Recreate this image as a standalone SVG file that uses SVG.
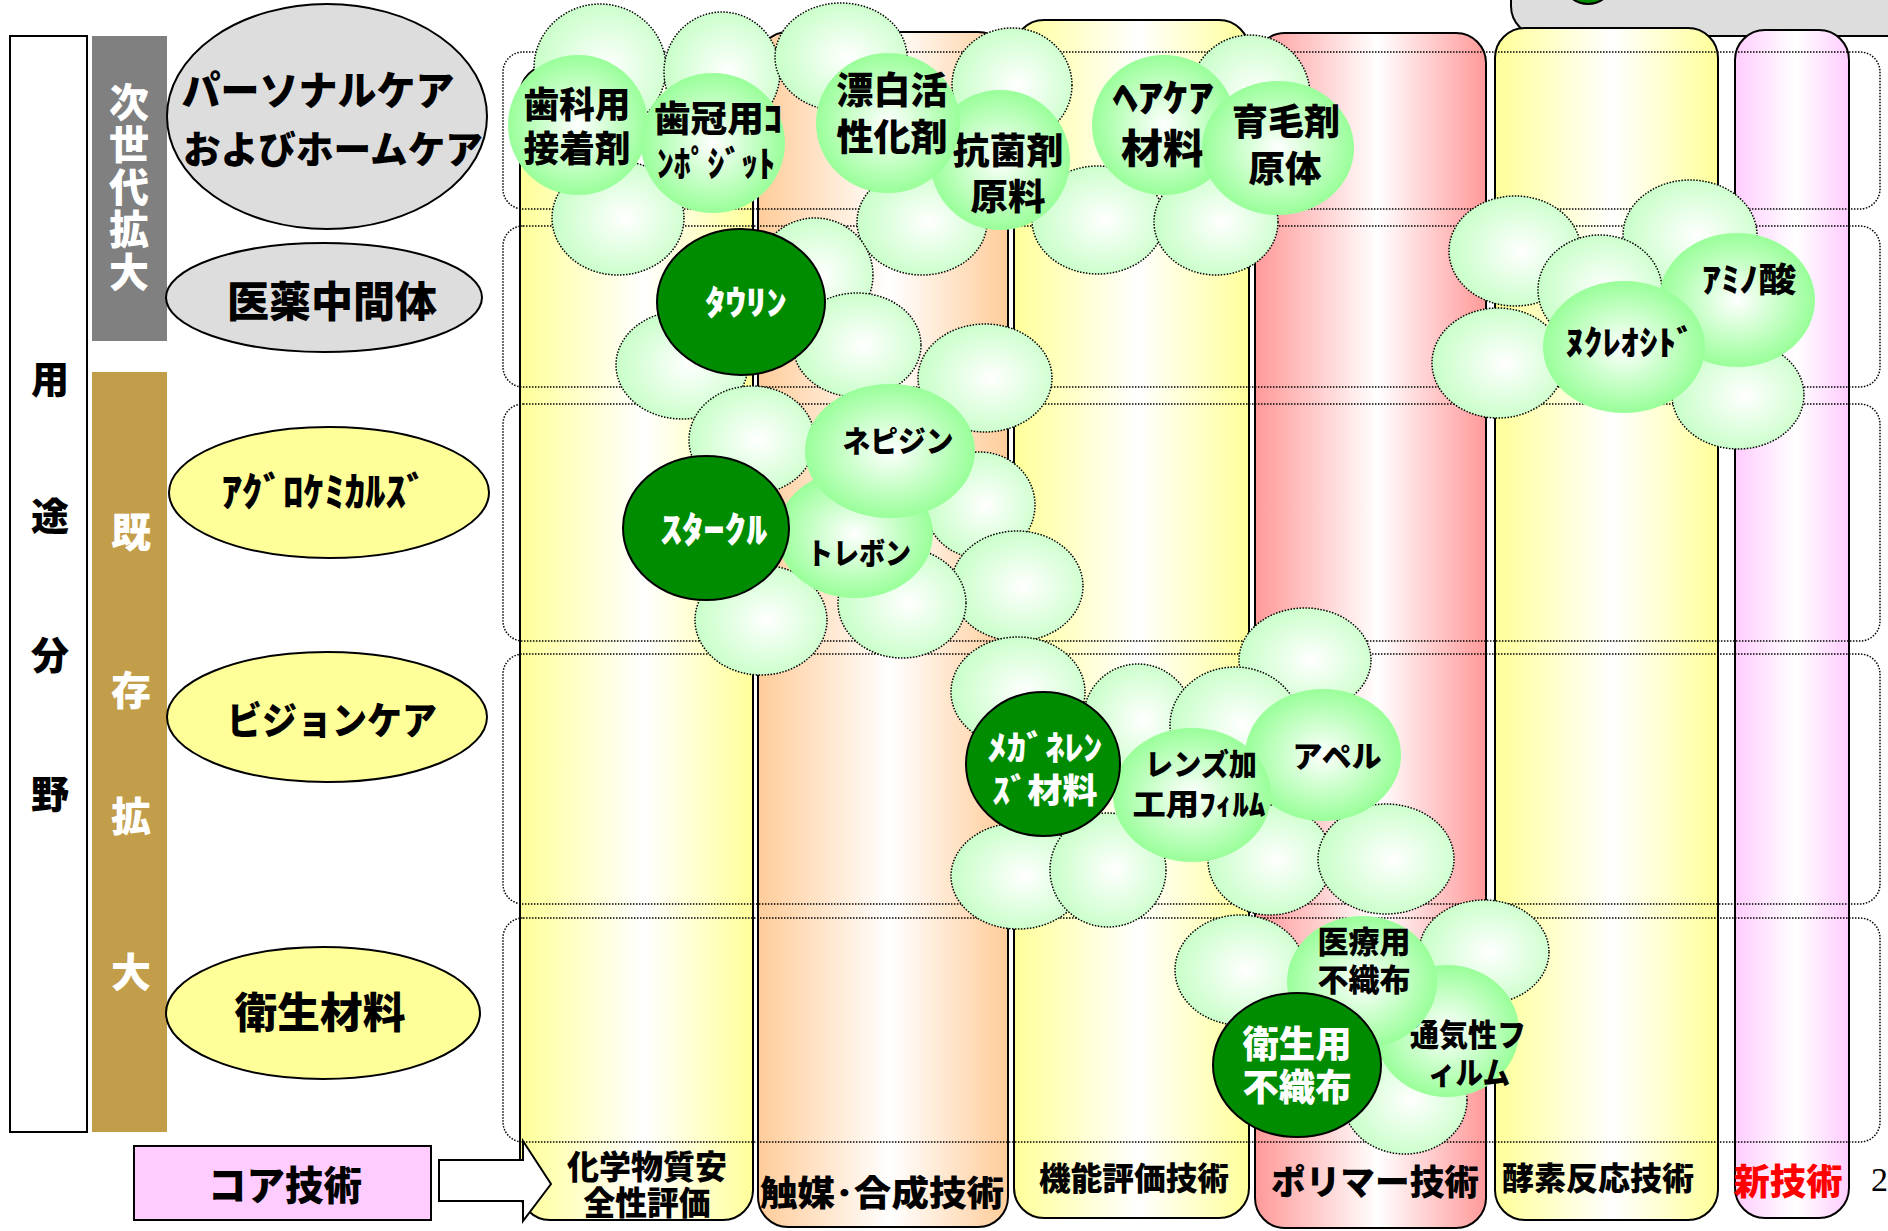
<svg xmlns="http://www.w3.org/2000/svg" width="1888" height="1231" viewBox="0 0 1888 1231">
<defs>
<style>
.t{font-family:"Noto Sans CJK JP","Noto Sans CJK SC",sans-serif;font-weight:900;text-anchor:middle;fill:#000}
.w{fill:#fff}
.red{fill:#FF0000}
.col{stroke:#000;stroke-width:2}
.row{fill:none;stroke:#000;stroke-width:1.5;stroke-dasharray:1.5 1.5}
.db{fill:url(#gD);stroke:#000;stroke-width:1.5;stroke-dasharray:1.5 1.5}
.lb{fill:url(#gL)}
.dk{fill:#008C00;stroke:#000;stroke-width:2}
.ge{fill:#DDDDDD;stroke:#000;stroke-width:2}
.ye{fill:#FFFF99;stroke:#000;stroke-width:2}
</style>
<linearGradient id="gY"><stop offset="0" stop-color="#FFFF99"/><stop offset="0.53" stop-color="#FFFFFF"/><stop offset="1" stop-color="#FFFF99"/></linearGradient>
<linearGradient id="gO"><stop offset="0" stop-color="#FFCC99"/><stop offset="0.53" stop-color="#FFFFFF"/><stop offset="1" stop-color="#FFCC99"/></linearGradient>
<linearGradient id="gR"><stop offset="0" stop-color="#FF9999"/><stop offset="0.53" stop-color="#FFFFFF"/><stop offset="1" stop-color="#FF9999"/></linearGradient>
<linearGradient id="gP"><stop offset="0" stop-color="#FFCCFF"/><stop offset="0.53" stop-color="#FFFFFF"/><stop offset="1" stop-color="#FFCCFF"/></linearGradient>
<radialGradient id="gL" cx="0.5" cy="0.5" r="0.5"><stop offset="0" stop-color="#FFFFFF"/><stop offset="1" stop-color="#99FF99"/></radialGradient>
<radialGradient id="gD" cx="0.55" cy="0.5" r="0.55"><stop offset="0" stop-color="#FFFFFF"/><stop offset="1" stop-color="#C8FFC8"/></radialGradient>
</defs>
<rect width="1888" height="1231" fill="#fff"/>

<!-- top-right partial box -->
<g id="top-box">
<rect x="1511" y="-60" width="420" height="96" rx="30" fill="#DDDDDD" stroke="#000" stroke-width="2"/>
<ellipse cx="1588" cy="-22" rx="26" ry="26" class="dk"/>
</g>

<!-- left axis -->
<g id="axis">
<rect x="10" y="36" width="77" height="1096" fill="#fff" stroke="#000" stroke-width="2"/>
<text class="t" font-size="38" x="50" y="393">用</text>
<text class="t" font-size="38" x="50" y="530">途</text>
<text class="t" font-size="38" x="50" y="669">分</text>
<text class="t" font-size="38" x="50" y="808">野</text>
</g>
<g id="next-gen">
<rect x="92" y="36" width="75" height="305" fill="#808080"/>
<text class="t w" font-size="40" x="129" y="188" writing-mode="vertical-rl" letter-spacing="2.5">次世代拡大</text>
</g>
<g id="existing">
<rect x="92" y="372" width="75" height="760" fill="#C29D4A"/>
<text class="t w" font-size="40" x="131" y="547">既</text>
<text class="t w" font-size="40" x="131" y="705">存</text>
<text class="t w" font-size="40" x="131" y="831">拡</text>
<text class="t w" font-size="40" x="131" y="987">大</text>
</g>

<!-- application ellipses -->
<g id="app-personal">
<ellipse cx="327" cy="116.5" rx="160" ry="112.5" class="ge"/>
<text class="t"><tspan font-size="40" x="318" y="105" textLength="273" lengthAdjust="spacingAndGlyphs">パーソナルケア</tspan><tspan font-size="38" x="333" y="163" textLength="300" lengthAdjust="spacingAndGlyphs">およびホームケア</tspan></text>
</g>
<g id="app-pharma">
<ellipse cx="324" cy="297.5" rx="158" ry="54.5" class="ge"/>
<text class="t" font-size="42" x="332" y="317" textLength="210" lengthAdjust="spacingAndGlyphs">医薬中間体</text>
</g>
<g id="app-agro">
<ellipse cx="329" cy="492.5" rx="160" ry="65.5" class="ye"/>
<text class="t" font-size="40" x="324" y="506" textLength="205" lengthAdjust="spacingAndGlyphs">ｱｸﾞﾛｹﾐｶﾙｽﾞ</text>
</g>
<g id="app-vision">
<ellipse cx="327" cy="717" rx="160" ry="65" class="ye"/>
<text class="t" font-size="38" x="332" y="734" textLength="210" lengthAdjust="spacingAndGlyphs">ビジョンケア</text>
</g>
<g id="app-hygiene">
<ellipse cx="323" cy="1013" rx="157" ry="66" class="ye"/>
<text class="t" font-size="42" x="320" y="1028" textLength="171" lengthAdjust="spacingAndGlyphs">衛生材料</text>
</g>
<g id="core-tech">
<rect x="134" y="1146" width="297" height="74" fill="#FFCCFF" stroke="#000" stroke-width="2"/>
<text class="t" font-size="40" x="285" y="1200" textLength="154" lengthAdjust="spacingAndGlyphs">コア技術</text>
</g>

<!-- technology columns -->
<g id="col-safety"><rect x="520" y="65" width="233" height="1155" rx="30" fill="url(#gY)" class="col"/></g>
<g id="col-catalysis"><rect x="758" y="32" width="250" height="1195" rx="30" fill="url(#gO)" class="col"/></g>
<g id="col-function"><rect x="1014" y="20" width="235" height="1198" rx="30" fill="url(#gY)" class="col"/></g>
<g id="col-polymer"><rect x="1255" y="33" width="231" height="1195" rx="30" fill="url(#gR)" class="col"/></g>
<g id="col-enzyme"><rect x="1495" y="28" width="223" height="1192" rx="30" fill="url(#gY)" class="col"/></g>
<g id="col-new"><rect x="1735" y="30" width="114" height="1188" rx="30" fill="url(#gP)" class="col"/></g>

<!-- row frames -->
<g id="rows">
<rect x="503" y="52" width="1377" height="157" rx="20" class="row"/>
<rect x="503" y="226" width="1377" height="161" rx="20" class="row"/>
<rect x="503" y="404" width="1377" height="237" rx="20" class="row"/>
<rect x="503" y="654" width="1377" height="250" rx="20" class="row"/>
<rect x="503" y="918" width="1377" height="224" rx="20" class="row"/>
</g>

<!-- column labels -->
<g id="col-labels">
<text class="t" font-size="33"><tspan x="647" y="1179" textLength="160" lengthAdjust="spacingAndGlyphs">化学物質安</tspan><tspan x="647" y="1215" textLength="127" lengthAdjust="spacingAndGlyphs">全性評価</tspan></text>
<text class="t" font-size="35" x="882" y="1206" textLength="244" lengthAdjust="spacingAndGlyphs">触媒･合成技術</text>
<text class="t" font-size="32" x="1134" y="1190" textLength="190" lengthAdjust="spacingAndGlyphs">機能評価技術</text>
<text class="t" font-size="35" x="1375" y="1195" textLength="208" lengthAdjust="spacingAndGlyphs">ポリマー技術</text>
<text class="t" font-size="32" x="1598" y="1190" textLength="192" lengthAdjust="spacingAndGlyphs">酵素反応技術</text>
<text class="t red" font-size="36" x="1788" y="1195" textLength="109" lengthAdjust="spacingAndGlyphs">新技術</text>
</g>
<text x="1871" y="1191" font-family="Liberation Serif" font-size="34" fill="#000">2</text>

<!-- connector -->
<g id="connectors">
<polygon points="439,1160 523,1160 523,1141 551,1184 523,1221 523,1201 439,1201" fill="#fff" stroke="#000" stroke-width="2"/>
</g>

<!-- unlabeled bubbles -->
<g id="bubbles-plain">
<ellipse cx="600" cy="68" rx="66" ry="64" class="db"/>
<ellipse cx="722" cy="72" rx="58" ry="60" class="db"/>
<ellipse cx="841" cy="57" rx="66" ry="54" class="db"/>
<ellipse cx="1012" cy="85" rx="60" ry="57" class="db"/>
<ellipse cx="1250" cy="95" rx="60" ry="60" class="db"/>
<ellipse cx="618" cy="218" rx="66" ry="57" class="db"/>
<ellipse cx="922" cy="222" rx="65" ry="53" class="db"/>
<ellipse cx="1098" cy="220" rx="66" ry="54" class="db"/>
<ellipse cx="1216" cy="222" rx="62" ry="53" class="db"/>
<ellipse cx="815" cy="275" rx="58" ry="57" class="db"/>
<ellipse cx="682" cy="365" rx="66" ry="54" class="db"/>
<ellipse cx="857" cy="345" rx="64" ry="52" class="db"/>
<ellipse cx="985" cy="378" rx="67" ry="54" class="db"/>
<ellipse cx="752" cy="440" rx="63" ry="54" class="db"/>
<ellipse cx="980" cy="505" rx="55" ry="53" class="db"/>
<ellipse cx="1017" cy="586" rx="66" ry="55" class="db"/>
<ellipse cx="761" cy="620" rx="66" ry="55" class="db"/>
<ellipse cx="902" cy="603" rx="64" ry="55" class="db"/>
<ellipse cx="1018" cy="692" rx="67" ry="55" class="db"/>
<ellipse cx="1305" cy="660" rx="66" ry="52" class="db"/>
<ellipse cx="1138" cy="720" rx="55" ry="56" class="db"/>
<ellipse cx="1235" cy="725" rx="65" ry="58" class="db"/>
<ellipse cx="1018" cy="876" rx="67" ry="53" class="db"/>
<ellipse cx="1108" cy="870" rx="58" ry="57" class="db"/>
<ellipse cx="1270" cy="860" rx="62" ry="55" class="db"/>
<ellipse cx="1386" cy="859" rx="68" ry="55" class="db"/>
<ellipse cx="1240" cy="970" rx="65" ry="55" class="db"/>
<ellipse cx="1484" cy="952" rx="65" ry="52" class="db"/>
<ellipse cx="1405" cy="1100" rx="62" ry="54" class="db"/>
<ellipse cx="1515" cy="251" rx="66" ry="55" class="db"/>
<ellipse cx="1498" cy="363" rx="66" ry="55" class="db"/>
<ellipse cx="1690" cy="235" rx="67" ry="55" class="db"/>
<ellipse cx="1738" cy="395" rx="66" ry="54" class="db"/>
<ellipse cx="1600" cy="290" rx="62" ry="55" class="db"/>
</g>

<!-- labeled bubbles -->
<g id="b-dental-adhesive">
<ellipse cx="578" cy="125" rx="70" ry="70" class="lb"/>
<text class="t" font-size="36"><tspan x="577" y="118" textLength="107" lengthAdjust="spacingAndGlyphs">歯科用</tspan><tspan x="577" y="162" textLength="107" lengthAdjust="spacingAndGlyphs">接着剤</tspan></text>
</g>
<g id="b-crown-composite">
<ellipse cx="713" cy="143" rx="72" ry="70" class="lb"/>
<text class="t" font-size="36"><tspan x="718" y="132" textLength="128" lengthAdjust="spacingAndGlyphs">歯冠用ｺ</tspan><tspan x="716" y="177" textLength="118" lengthAdjust="spacingAndGlyphs">ﾝﾎﾟｼﾞｯﾄ</tspan></text>
</g>
<g id="b-antibacterial">
<ellipse cx="1000" cy="160" rx="70" ry="70" class="lb"/>
<text class="t" font-size="36"><tspan x="1008" y="164" textLength="111" lengthAdjust="spacingAndGlyphs">抗菌剤</tspan><tspan x="1008" y="210" textLength="75" lengthAdjust="spacingAndGlyphs">原料</tspan></text>
</g>
<g id="b-bleach">
<ellipse cx="888" cy="123" rx="72" ry="70" class="lb"/>
<text class="t" font-size="37"><tspan x="892" y="104" textLength="111" lengthAdjust="spacingAndGlyphs">漂白活</tspan><tspan x="892" y="151" textLength="111" lengthAdjust="spacingAndGlyphs">性化剤</tspan></text>
</g>
<g id="b-haircare">
<ellipse cx="1164" cy="125" rx="72" ry="70" class="lb"/>
<text class="t"><tspan font-size="38" x="1163" y="111" textLength="101" lengthAdjust="spacingAndGlyphs">ﾍｱｹｱ</tspan><tspan font-size="40" x="1163" y="163" textLength="84" lengthAdjust="spacingAndGlyphs">材料</tspan></text>
</g>
<g id="b-hairgrowth">
<ellipse cx="1278" cy="148" rx="76" ry="67" class="lb"/>
<text class="t" font-size="36"><tspan x="1286" y="135" textLength="108" lengthAdjust="spacingAndGlyphs">育毛剤</tspan><tspan x="1285" y="182" textLength="73" lengthAdjust="spacingAndGlyphs">原体</tspan></text>
</g>
<g id="b-amino">
<ellipse cx="1737" cy="300" rx="78" ry="67" class="lb"/>
<text class="t" font-size="34" x="1749" y="292" textLength="94" lengthAdjust="spacingAndGlyphs">ｱﾐﾉ酸</text>
</g>
<g id="b-nucleoside">
<ellipse cx="1624" cy="347" rx="81" ry="66" class="lb"/>
<text class="t" font-size="34" x="1630" y="355" textLength="129" lengthAdjust="spacingAndGlyphs">ﾇｸﾚｵｼﾄﾞ</text>
</g>
<g id="b-trebon">
<ellipse cx="855" cy="534" rx="78" ry="64" class="lb"/>
<text class="t" font-size="30" x="859" y="564" textLength="104" lengthAdjust="spacingAndGlyphs">トレボン</text>
</g>
<g id="b-nepidin">
<ellipse cx="890" cy="451" rx="85" ry="67" class="lb"/>
<text class="t" font-size="30" x="898" y="452" textLength="111" lengthAdjust="spacingAndGlyphs">ネピジン</text>
</g>
<g id="b-apel">
<ellipse cx="1323" cy="755" rx="78" ry="66" class="lb"/>
<text class="t" font-size="30" x="1337" y="767" textLength="89" lengthAdjust="spacingAndGlyphs">アペル</text>
</g>
<g id="b-lensfilm">
<ellipse cx="1192" cy="795" rx="79" ry="67" class="lb"/>
<text class="t" font-size="30"><tspan x="1201" y="775" textLength="112" lengthAdjust="spacingAndGlyphs">レンズ加</tspan><tspan x="1199" y="815" textLength="133" lengthAdjust="spacingAndGlyphs">工用ﾌｨﾙﾑ</tspan></text>
</g>
<g id="b-breathable">
<ellipse cx="1447" cy="1031" rx="72" ry="66" class="lb"/>
<text class="t" font-size="31"><tspan x="1468" y="1046" textLength="116" lengthAdjust="spacingAndGlyphs">通気性フ</tspan><tspan x="1469" y="1084" textLength="82" lengthAdjust="spacingAndGlyphs">ィルム</tspan></text>
</g>
<g id="b-medical-nonwoven">
<ellipse cx="1362" cy="982" rx="75" ry="66" class="lb"/>
<text class="t" font-size="31"><tspan x="1364" y="953" textLength="93" lengthAdjust="spacingAndGlyphs">医療用</tspan><tspan x="1364" y="991" textLength="93" lengthAdjust="spacingAndGlyphs">不織布</tspan></text>
</g>

<!-- core product circles -->
<g id="c-taurine">
<ellipse cx="741" cy="302" rx="84" ry="73" class="dk"/>
<text class="t w" font-size="34" x="746" y="315" textLength="82" lengthAdjust="spacingAndGlyphs">ﾀｳﾘﾝ</text>
</g>
<g id="c-starkle">
<ellipse cx="706" cy="528" rx="83" ry="72" class="dk"/>
<text class="t w" font-size="36" x="714" y="543" textLength="107" lengthAdjust="spacingAndGlyphs">ｽﾀｰｸﾙ</text>
</g>
<g id="c-eyeglass">
<ellipse cx="1043" cy="764" rx="77" ry="72" class="dk"/>
<text class="t w" font-size="34"><tspan x="1045" y="760" textLength="115" lengthAdjust="spacingAndGlyphs">ﾒｶﾞﾈﾚﾝ</tspan><tspan x="1045" y="803" textLength="105" lengthAdjust="spacingAndGlyphs">ｽﾞ材料</tspan></text>
</g>
<g id="c-hygiene-nonwoven">
<ellipse cx="1297" cy="1065" rx="84" ry="72" class="dk"/>
<text class="t w" font-size="37"><tspan x="1297" y="1058" textLength="109" lengthAdjust="spacingAndGlyphs">衛生用</tspan><tspan x="1297" y="1101" textLength="109" lengthAdjust="spacingAndGlyphs">不織布</tspan></text>
</g>
</svg>
